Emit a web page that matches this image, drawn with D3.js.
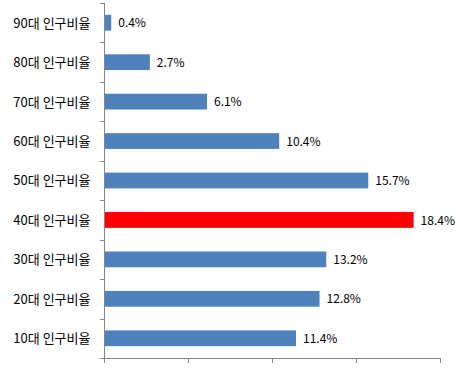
<!DOCTYPE html>
<html>
<head>
<meta charset="utf-8">
<script src="https://cdn.jsdelivr.net/npm/d3@7"></script>
<style>
  body { margin: 0; background: #fff; }
  text { font-family: "Noto Sans CJK KR", "Noto Sans", sans-serif; fill: #000; }
</style>
</head>
<body>
<svg width="460" height="372"></svg>
<script>
// categories top to bottom
var categories = ["90대 인구비율", "80대 인구비율", "70대 인구비율", "60대 인구비율",
                  "50대 인구비율", "40대 인구비율", "30대 인구비율", "20대 인구비율", "10대 인구비율"];
var values = [0.4, 2.7, 6.1, 10.4, 15.7, 18.4, 13.2, 12.8, 11.4];
var highlight = "40대 인구비율";
var xTicks = [0, 5, 10, 15, 20];

var svg = d3.select("svg"),
    margin = {top: 3, right: 20, bottom: 14, left: 104.5},
    width = 440.5 - margin.left,
    height = 358 - margin.top;

var g = svg.append("g")
    .attr("transform", "translate(" + margin.left + "," + margin.top + ")");

var x = d3.scaleLinear().domain([0, 20]).range([0, width]);
var y = d3.scaleBand().domain(categories).range([0, height]).paddingInner(0.6).paddingOuter(0.3);

var axisColor = "#868686";

// bars
g.selectAll("rect.bar")
    .data(values)
    .enter().append("rect")
    .attr("class", "bar")
    .attr("x", 0)
    .attr("y", function(d, i) { return y(categories[i]); })
    .attr("width", function(d) { return x(d); })
    .attr("height", y.bandwidth())
    .attr("fill", function(d, i) { return categories[i] == highlight ? "#FF0000" : "#4F81BD"; });

// value labels
g.selectAll("text.val")
    .data(values)
    .enter().append("text")
    .attr("class", "val")
    .attr("x", function(d) { return x(d) + 7; })
    .attr("y", function(d, i) { return y(categories[i]) + y.bandwidth() / 2; })
    .attr("dy", "0.38em")
    .style("font-size", "12px")
    .text(function(d) { return d.toFixed(1) + "%"; });

// y axis: line + ticks between categories
var step = height / categories.length;
g.append("line")
    .attr("x1", 0).attr("x2", 0).attr("y1", 0).attr("y2", height)
    .attr("stroke", axisColor).attr("shape-rendering", "crispEdges");
g.selectAll("line.ytick")
    .data(d3.range(categories.length + 1))
    .enter().append("line")
    .attr("class", "ytick")
    .attr("x1", -5).attr("x2", 0)
    .attr("y1", function(i) { return Math.round(i * step); })
    .attr("y2", function(i) { return Math.round(i * step); })
    .attr("stroke", axisColor).attr("shape-rendering", "crispEdges");

// category labels
g.selectAll("text.cat")
    .data(categories)
    .enter().append("text")
    .attr("class", "cat")
    .attr("x", -14)
    .attr("y", function(d) { return y(d) + y.bandwidth() / 2; })
    .attr("dy", "0.38em")
    .attr("text-anchor", "end")
    .style("font-size", "13px")
    .text(function(d) { return d; });

// x axis: line + ticks, no labels
var xAxis = g.append("g").attr("transform", "translate(0," + height + ")");
xAxis.append("line")
    .attr("x1", 0).attr("x2", width).attr("y1", 0).attr("y2", 0)
    .attr("stroke", axisColor).attr("shape-rendering", "crispEdges");
xAxis.selectAll("line.xtick")
    .data(xTicks)
    .enter().append("line")
    .attr("class", "xtick")
    .attr("x1", function(d) { return x(d); })
    .attr("x2", function(d) { return x(d); })
    .attr("y1", 0).attr("y2", 5)
    .attr("stroke", axisColor).attr("shape-rendering", "crispEdges");
</script>
</body>
</html>
